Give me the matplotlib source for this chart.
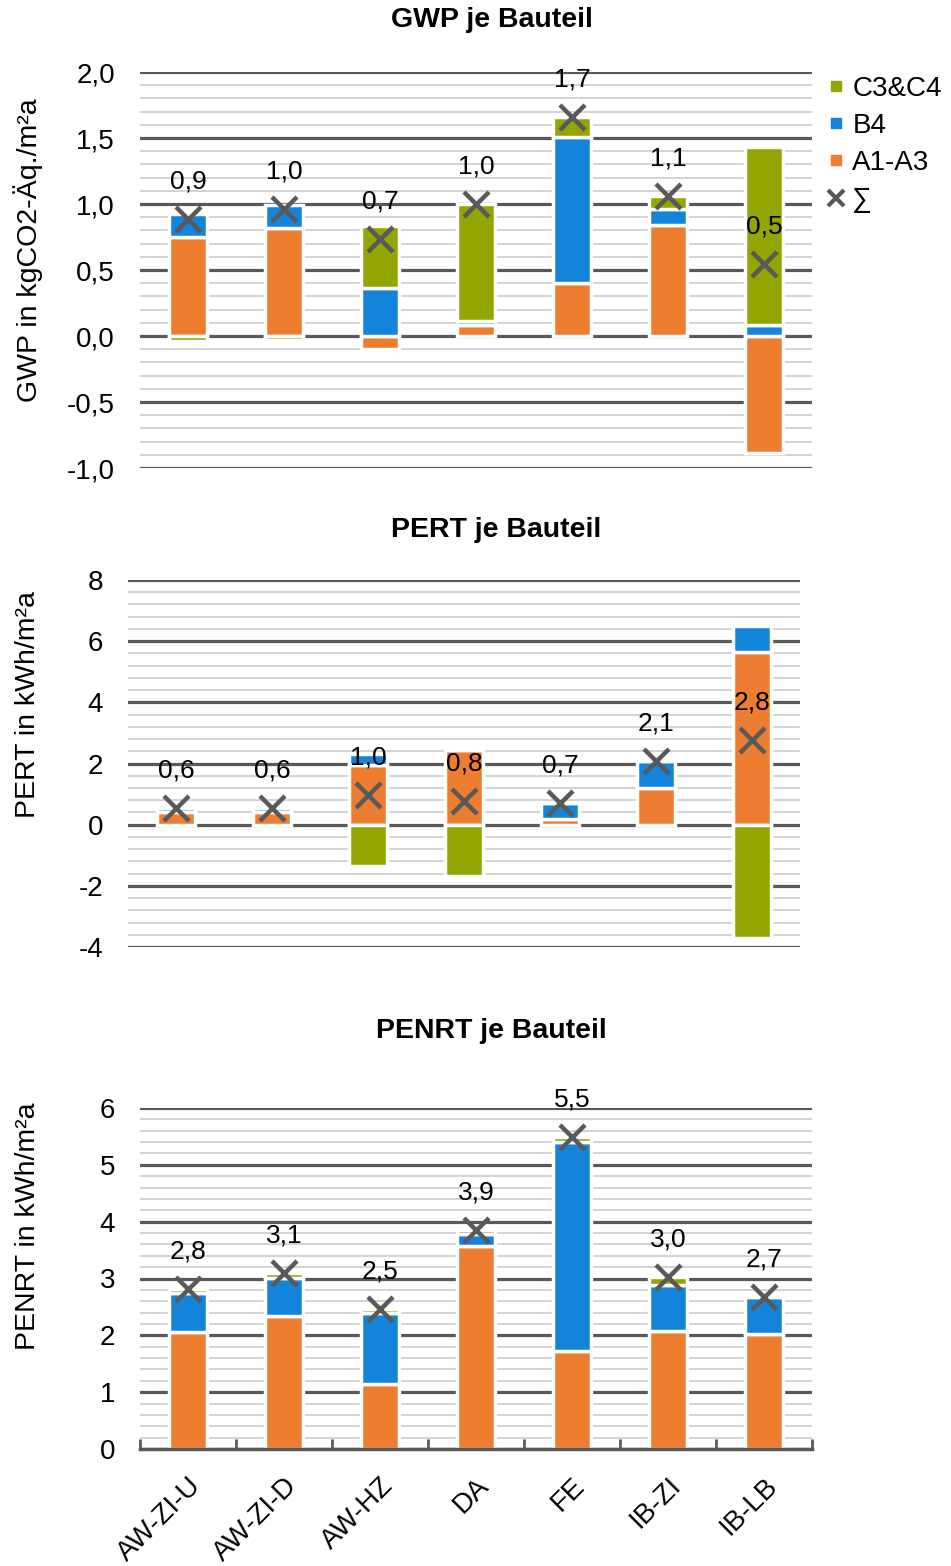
import numpy as np
import matplotlib
matplotlib.use('Agg')
import matplotlib.pyplot as plt
from matplotlib.lines import Line2D
from matplotlib.ticker import MultipleLocator, FuncFormatter

plt.rcParams['font.family'] = ['Liberation Sans', 'DejaVu Sans']

# Bauteile und Lebenszyklusmodule
bauteile = ['AW-ZI-U', 'AW-ZI-D', 'AW-HZ', 'DA', 'FE', 'IB-ZI', 'IB-LB']
module = ['A1-A3', 'B4', 'C3&C4']
farben = ['#ED7D31', '#1484DA', '#92A500']
grau = '#595959'

# GWP in kgCO2-Äq./m²a
gwp_a1a3 = [0.75, 0.82, -0.10, 0.08, 0.40, 0.84, -0.89]
gwp_b4 = [0.175, 0.175, 0.365, 0.03, 1.11, 0.12, 0.087]
gwp_c3c4 = [-0.035, -0.03, 0.47, 0.89, 0.15, 0.10, 1.347]

# PERT in kWh/m²a
pert_a1a3 = [0.43, 0.43, 1.95, 2.45, 0.20, 1.20, 5.66]
pert_b4 = [0.13, 0.13, 0.35, 0.0, 0.50, 0.87, 0.82]
pert_c3c4 = [0.0, 0.0, -1.34, -1.68, 0.0, 0.0, -3.70]

# PENRT in kWh/m²a
penrt_a1a3 = [2.06, 2.34, 1.15, 3.57, 1.73, 2.08, 2.02]
penrt_b4 = [0.68, 0.67, 1.24, 0.21, 3.68, 0.81, 0.65]
penrt_c3c4 = [0.08, 0.09, 0.07, 0.08, 0.08, 0.13, 0.0]

W, H = 951, 1566
fig = plt.figure(figsize=(W / 100, H / 100), dpi=100)


def box(left, top, right, bottom):
    return [left / W, 1 - bottom / H, (right - left) / W, (bottom - top) / H]


def komma(v, pos=None, nachkomma=1):
    return f'{v:.{nachkomma}f}'.replace('.', ',')


def zeichne(ax, werte, ymin, ymax, major, minor, nachkomma):
    x = np.arange(len(bauteile))
    pos = np.zeros(len(bauteile))
    neg = np.zeros(len(bauteile))
    for w, farbe in zip(werte, farben):
        w = np.array(w)
        bottom = np.where(w >= 0, pos, neg)
        ax.bar(x, w, 0.4, bottom=bottom, color=farbe, edgecolor='white',
               linewidth=2.5, zorder=3)
        pos = pos + np.clip(w, 0, None)
        neg = neg + np.clip(w, None, 0)

    summe = np.sum(werte, axis=0)
    ax.plot(x, summe, linestyle='none', marker='x', color=grau, ms=18, mew=3.2, zorder=5)
    for xi, s in zip(x, summe):
        ax.annotate(komma(s), (xi, s), xytext=(0, 27), textcoords='offset points',
                    ha='center', va='center', fontsize=19, zorder=6)

    ax.set_xlim(-0.5, len(bauteile) - 0.5)
    ax.set_ylim(ymin, ymax)
    ax.yaxis.set_major_locator(MultipleLocator(major))
    ax.yaxis.set_minor_locator(MultipleLocator(minor))
    ax.yaxis.set_major_formatter(FuncFormatter(lambda v, p: komma(v, p, nachkomma)))
    ax.grid(which='major', axis='y', color=grau, lw=2.3, zorder=0)
    ax.grid(which='minor', axis='y', color='#C8C8C8', lw=1.1, zorder=0)
    ax.set_axisbelow(True)
    for s in ax.spines.values():
        s.set_visible(False)
    ax.tick_params(axis='y', which='both', length=0, labelsize=20, pad=18)
    ax.set_xticks([])


ax1 = fig.add_axes(box(140, 72, 812, 468))
zeichne(ax1, [gwp_a1a3, gwp_b4, gwp_c3c4], -1.0, 2.0, 0.5, 0.1, 1)

ax2 = fig.add_axes(box(128, 580, 800, 947))
zeichne(ax2, [pert_a1a3, pert_b4, pert_c3c4], -4, 8, 2, 0.4, 0)

ax3 = fig.add_axes(box(140, 1108, 812, 1449))
zeichne(ax3, [penrt_a1a3, penrt_b4, penrt_c3c4], 0, 6, 1, 0.2, 0)
ax3.spines['bottom'].set_visible(True)
ax3.spines['bottom'].set_color(grau)
ax3.spines['bottom'].set_linewidth(2.5)
ax3.spines['bottom'].set_zorder(4)
ax3.set_xticks(np.arange(len(bauteile)))
ax3.set_xticklabels(bauteile, rotation=45, ha='right', rotation_mode='anchor', fontsize=20)
ax3.set_xticks(np.arange(len(bauteile) + 1) - 0.5, minor=True)
ax3.tick_params(axis='x', which='major', length=0, pad=17)
ax3.tick_params(axis='x', which='minor', direction='in', length=7, width=2, color=grau)

# Titel und Achsenbeschriftungen
fig.text(492 / W, 1 - 20 / H, 'GWP je Bauteil', ha='center', va='center', fontsize=20.5, fontweight='bold')
fig.text(496 / W, 1 - 530 / H, 'PERT je Bauteil', ha='center', va='center', fontsize=20.5, fontweight='bold')
fig.text(491 / W, 1 - 1031 / H, 'PENRT je Bauteil', ha='center', va='center', fontsize=20.5, fontweight='bold')

fig.text(28 / W, 1 - 250 / H, 'GWP in kgCO2-Äq./m²a', rotation=90, ha='center', va='center', fontsize=20.5)
fig.text(28 / W, 1 - 705 / H, 'PERT in kWh/m²a', rotation=90, ha='center', va='center', fontsize=20.5)
fig.text(28 / W, 1 - 1226 / H, 'PENRT in kWh/m²a', rotation=90, ha='center', va='center', fontsize=20.5)

# Legende
griffe = [Line2D([], [], ls='none', marker='s', ms=7, color=farben[2]),
          Line2D([], [], ls='none', marker='s', ms=7, color=farben[1]),
          Line2D([], [], ls='none', marker='s', ms=7, color=farben[0]),
          Line2D([], [], ls='none', marker='x', ms=11, mew=3, color=grau)]
fig.legend(griffe, ['C3&C4', 'B4', 'A1-A3', '∑'], loc='upper left',
           bbox_to_anchor=(826 / W, 1 - 76 / H), frameon=False, fontsize=20,
           handlelength=0.7, handletextpad=0.25, labelspacing=0.4, borderaxespad=0,
           borderpad=0)

fig.savefig('out.png', dpi=100)
